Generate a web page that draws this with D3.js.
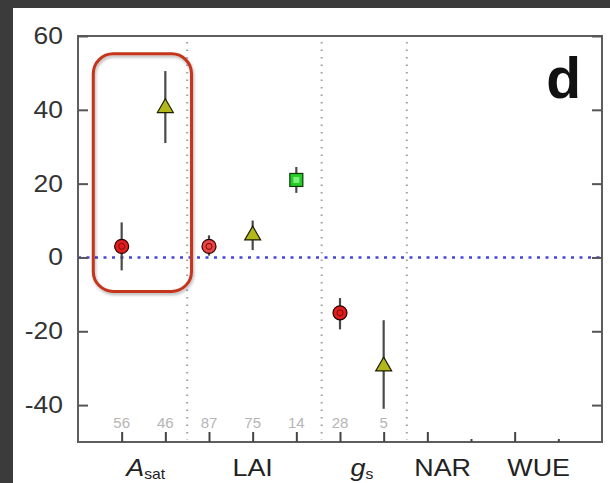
<!DOCTYPE html>
<html>
<head>
<meta charset="utf-8">
<script src="https://cdn.jsdelivr.net/npm/d3@7"></script>
<style>
  html, body { margin: 0; padding: 0; background: #3b3b3b; }
  svg { display: block; }
  text { font-family: "Liberation Sans", Arial, Helvetica, sans-serif; }
</style>
</head>
<body>
<svg id="chart" width="610" height="483"></svg>
<script>
// Effect sizes (%) per trait and group, with confidence limits
const positions = [1, 2, 3, 4, 5, 6, 7];
const values    = [3, 40.5, 3, 6, 21, -15, -29.5];
const lower     = [-3.5, 31, 0.5, 2, 17.5, -19.5, -41];
const upper     = [9.5, 50.5, 6, 10, 24.5, -11, -17];
const shapes    = ["circle", "triangle", "circle", "triangle", "square", "circle", "triangle"];
const fills     = ["#e01e1e", "#b3b81a", "#e84444", "#b3b81a", "#26cc26", "#e01e1e", "#b3b81a"];
const sampleN   = ["56", "46", "87", "75", "14", "28", "5"];

// Trait labels along the x axis
const traitPos  = [1.55, 4, 6.5, 8.35, 10.55];
const traitMain = ["A", "LAI", "g", "NAR", "WUE"];
const traitSub  = ["sat", "", "s", "", ""];
const traitItal = [true, false, true, false, false];

// Group separators and axis ticks
const separators = [2.5, 5.58, 7.53];
const xTicks     = [1, 2, 3, 4, 5, 6, 7, 8, 9, 10, 11];
const xTickShort = [9, 11];
const yTicks     = [60, 40, 20, 0, -20, -40];

const svg = d3.select("#chart");
svg.append("rect").attr("x", 13).attr("y", 8).attr("width", 597).attr("height", 475).attr("fill", "#ffffff");

const plotL = 78, plotR = 602, plotT = 36, plotB = 442;
const x = d3.scaleLinear().domain([0, 12]).range([plotL, plotR]);
const y = d3.scaleLinear().domain([-50, 60]).range([plotB, plotT]);

const defs = svg.append("defs");
const f = defs.append("filter").attr("id", "soft").attr("x", "-10%").attr("y", "-10%").attr("width", "130%").attr("height", "130%");
f.append("feDropShadow").attr("dx", 1).attr("dy", 2).attr("stdDeviation", 1.5).attr("flood-color", "#000").attr("flood-opacity", 0.3);

// dotted separators
svg.append("g").selectAll("line").data(separators).join("line")
  .attr("x1", d => x(d)).attr("x2", d => x(d))
  .attr("y1", plotT + 6).attr("y2", plotB - 2)
  .attr("stroke", "#a0a0a0").attr("stroke-width", 2)
  .attr("stroke-dasharray", "1.5,6");

// zero reference line
svg.append("line")
  .attr("x1", plotL).attr("x2", plotR).attr("y1", y(0)).attr("y2", y(0))
  .attr("stroke", "#4545dc").attr("stroke-width", 2.4)
  .attr("stroke-dasharray", "3,5.5");

// frame
svg.append("rect").attr("x", plotL).attr("y", plotT).attr("width", plotR - plotL).attr("height", plotB - plotT)
  .attr("fill", "none").attr("stroke", "#5e5e5e").attr("stroke-width", 2);

// y axis ticks (inward, both sides) and labels
const yAxisL = d3.axisRight(y).tickValues(yTicks).tickSize(10).tickFormat("");
const yAxisR = d3.axisLeft(y).tickValues(yTicks).tickSize(10).tickFormat("");
const gL = svg.append("g").attr("transform", `translate(${plotL},0)`).call(yAxisL);
const gR = svg.append("g").attr("transform", `translate(${plotR},0)`).call(yAxisR);
[gL, gR].forEach(g => {
  g.select(".domain").remove();
  g.selectAll(".tick line").attr("stroke", "#555").attr("stroke-width", 2);
});
svg.append("g").selectAll("text").data(yTicks).join("text")
  .attr("transform", d => `translate(63,${y(d) + 8}) scale(1.15,1)`)
  .attr("text-anchor", "end").attr("font-size", 23).attr("fill", "#333")
  .text(d => d);

// x axis ticks (inward)
const xAxis = d3.axisTop(x).tickValues(xTicks).tickSize(10).tickFormat("");
const gX = svg.append("g").attr("transform", `translate(0,${plotB})`).call(xAxis);
gX.select(".domain").remove();
gX.selectAll(".tick line").attr("stroke", "#444").attr("stroke-width", 2)
  .attr("y2", d => xTickShort.includes(d) ? -3 : -10);

// sample sizes
svg.append("g").selectAll("text").data(positions).join("text")
  .attr("x", d => x(d)).attr("y", 428)
  .attr("text-anchor", "middle").attr("font-size", 15).attr("fill", "#b5b5b5")
  .text((d, i) => sampleN[i]);

// trait labels
traitPos.forEach((p, i) => {
  const t = svg.append("text")
    .attr("transform", `translate(${x(p)},476) scale(1.12,1)`)
    .attr("text-anchor", "middle").attr("font-size", 24).attr("fill", "#222");
  t.append("tspan").attr("font-style", traitItal[i] ? "italic" : "normal").text(traitMain[i]);
  if (traitSub[i]) t.append("tspan").attr("font-size", 14).attr("dy", 3).text(traitSub[i]);
});

// panel letter
svg.append("text").attr("x", 581).attr("y", 98).attr("text-anchor", "end")
  .attr("font-size", 57).attr("font-weight", "bold").attr("fill", "#111").text("d");

// error bars
svg.append("g").selectAll("line").data(positions).join("line")
  .attr("x1", d => x(d)).attr("x2", d => x(d))
  .attr("y1", (d, i) => y(upper[i])).attr("y2", (d, i) => y(lower[i]))
  .attr("stroke", "#4a4a4a").attr("stroke-width", 2.2);

// markers
const marks = svg.append("g");
positions.forEach((p, i) => {
  const cx = x(p), cy = y(values[i]);
  if (shapes[i] === "circle") {
    marks.append("circle").attr("cx", cx).attr("cy", cy).attr("r", 7)
      .attr("fill", fills[i]).attr("stroke", "#2a0000").attr("stroke-width", 1.2);
    marks.append("circle").attr("cx", cx).attr("cy", cy).attr("r", 3)
      .attr("fill", "none").attr("stroke", "#7a0a0a").attr("stroke-width", 1);
  } else if (shapes[i] === "triangle") {
    const tri = d3.symbol().type(d3.symbolTriangle).size(110);
    marks.append("path").attr("d", tri).attr("transform", `translate(${cx},${cy})`)
      .attr("fill", fills[i]).attr("stroke", "#1e1e00").attr("stroke-width", 1.2);
  } else {
    marks.append("rect").attr("x", cx - 6.5).attr("y", cy - 6.5).attr("width", 13).attr("height", 13)
      .attr("fill", fills[i]).attr("stroke", "#0a3a0a").attr("stroke-width", 1.2);
    marks.append("rect").attr("x", cx - 3).attr("y", cy - 3).attr("width", 6).attr("height", 6)
      .attr("fill", "#7cf07c").attr("stroke", "none");
  }
});

// rounded highlight around the A_sat pair
svg.append("rect")
  .attr("x", x(0.35)).attr("y", y(55.2))
  .attr("width", x(2.6) - x(0.35)).attr("height", y(-9.2) - y(55.2))
  .attr("rx", 20).attr("ry", 20)
  .attr("fill", "none").attr("stroke", "#c4361c").attr("stroke-width", 3)
  .attr("filter", "url(#soft)");
</script>
</body>
</html>
